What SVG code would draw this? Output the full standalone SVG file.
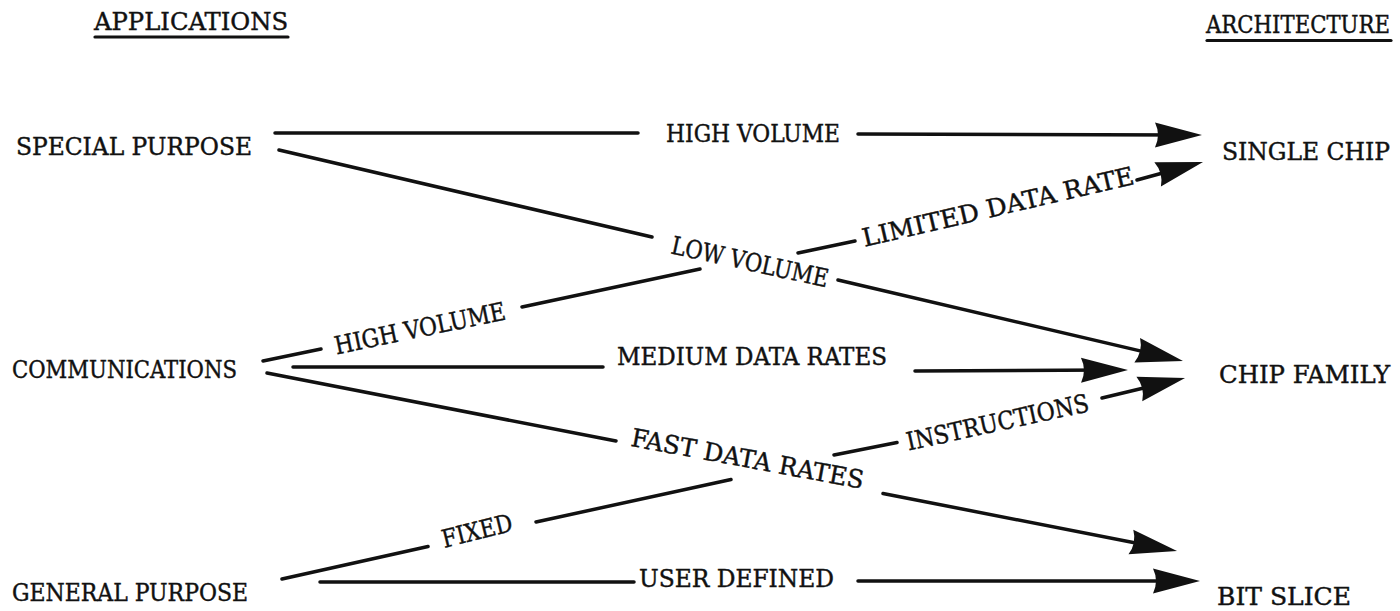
<svg xmlns="http://www.w3.org/2000/svg" width="1400" height="611" viewBox="0 0 1400 611">
  <style>
    .t { font-family: "DejaVu Serif Condensed", "DejaVu Serif", "Liberation Serif", serif; font-size: 25px; fill: #111; stroke: #111; stroke-width: 0.4; }
    .c { fill: none; stroke: #111; stroke-width: 3.5; stroke-linecap: round; stroke-linejoin: round; }
    .a { marker-end: url(#arrow); }
    .u { stroke: #111; stroke-width: 3.2; stroke-linecap: round; }
  </style>
  <defs>
    <marker id="arrow" viewBox="0 0 48 26" refX="28" refY="13" markerWidth="48" markerHeight="26" orient="auto" markerUnits="userSpaceOnUse">
      <path d="M48,13 L1,0.5 Q7,13 1,25.5 Z" fill="#111" stroke="none"/>
    </marker>
  </defs>
  <rect width="1400" height="611" fill="#fff"/>

  <g id="applications-header">
    <text class="t" x="94" y="30" textLength="194" lengthAdjust="spacingAndGlyphs">APPLICATIONS</text>
    <line class="u" x1="95" y1="37" x2="288" y2="37"/>
  </g>
  <g id="architecture-header">
    <text class="t" x="1206" y="33" textLength="184" lengthAdjust="spacingAndGlyphs">ARCHITECTURE</text>
    <line class="u" x1="1207" y1="40.5" x2="1391" y2="40.5"/>
  </g>

  <g id="special-purpose">
    <text class="t" x="16" y="155" textLength="236" lengthAdjust="spacingAndGlyphs">SPECIAL PURPOSE</text>
  </g>
  <g id="communications">
    <text class="t" x="12" y="378" textLength="225" lengthAdjust="spacingAndGlyphs">COMMUNICATIONS</text>
  </g>
  <g id="general-purpose">
    <text class="t" x="12" y="601" textLength="236" lengthAdjust="spacingAndGlyphs">GENERAL PURPOSE</text>
  </g>
  <g id="single-chip">
    <text class="t" x="1222" y="160" textLength="168" lengthAdjust="spacingAndGlyphs">SINGLE CHIP</text>
  </g>
  <g id="chip-family">
    <text class="t" x="1219" y="383" textLength="171" lengthAdjust="spacingAndGlyphs">CHIP FAMILY</text>
  </g>
  <g id="bit-slice">
    <text class="t" x="1217" y="605" textLength="134" lengthAdjust="spacingAndGlyphs">BIT SLICE</text>
  </g>

  <g id="connectors">
    <g id="sp-sc">
      <path class="c a" d="M275,133 L638,133 M858,134 L1182,135"/>
      <text class="t" x="666" y="142" textLength="174" lengthAdjust="spacingAndGlyphs">HIGH VOLUME</text>
    </g>
    <g id="sp-cf">
      <path class="c a" d="M279,150 L652,237 M838,280 L1163.5,356.4"/>
      <text class="t" x="750" y="270.5" text-anchor="middle" textLength="160" lengthAdjust="spacingAndGlyphs" transform="rotate(12.3 750 262)">LOW VOLUME</text>
    </g>
    <g id="cm-sc">
      <path class="c a" d="M263,361 L321,349 M522,307 L700,269 M798,253 L855,241 M1137,180 L1183.7,167.3"/>
      <text class="t" x="420" y="337" text-anchor="middle" textLength="174" lengthAdjust="spacingAndGlyphs" transform="rotate(-11.7 420 328.5)">HIGH VOLUME</text>
      <text class="t" x="998" y="215.5" text-anchor="middle" textLength="278" lengthAdjust="spacingAndGlyphs" transform="rotate(-13.1 998 207)">LIMITED DATA RATE</text>
    </g>
    <g id="cm-cf">
      <path class="c a" d="M293,367 L603,367 M915,371 L1108,370"/>
      <text class="t" x="617" y="365" textLength="270" lengthAdjust="spacingAndGlyphs">MEDIUM DATA RATES</text>
    </g>
    <g id="cm-bs">
      <path class="c a" d="M267,373 L616,441 M883,493.5 L1157.4,547.2"/>
      <text class="t" x="747.5" y="467.5" text-anchor="middle" textLength="236" lengthAdjust="spacingAndGlyphs" transform="rotate(10.5 747.5 459)">FAST DATA RATES</text>
    </g>
    <g id="gp-cf">
      <path class="c a" d="M282,579 L428,546.5 M536,522 L731,479.5 M834,455 L897,442.5 M1102,398 L1165.6,382.7"/>
      <text class="t" x="477" y="539.5" text-anchor="middle" textLength="72" lengthAdjust="spacingAndGlyphs" transform="rotate(-14 477 531)">FIXED</text>
      <text class="t" x="997.5" y="431" text-anchor="middle" textLength="186" lengthAdjust="spacingAndGlyphs" transform="rotate(-12.3 997.5 422.5)">INSTRUCTIONS</text>
    </g>
    <g id="gp-bs">
      <path class="c a" d="M320,582 L634,582 M858,581 L1180,581"/>
      <text class="t" x="639" y="587" textLength="195" lengthAdjust="spacingAndGlyphs">USER DEFINED</text>
    </g>
  </g>
</svg>
